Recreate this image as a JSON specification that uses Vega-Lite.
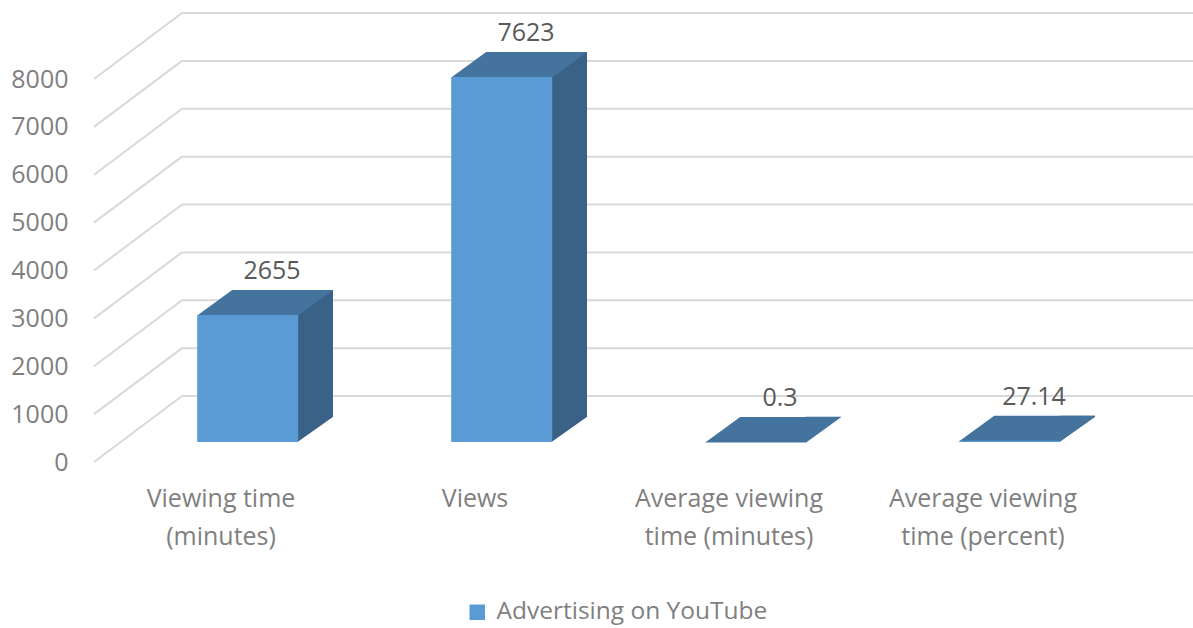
{
  "$schema": "https://vega.github.io/schema/vega-lite/v6.json",
  "width": 1016,
  "height": 383,
  "autosize": {"type": "none"},
  "padding": {"left": 94, "top": 79, "right": 83, "bottom": 166},
  "background": "white",
  "config": {"view": {"stroke": null}, "font": "Open Sans"},
  "datasets": {
    "bars": [
      {"category": "Viewing time (minutes)", "label": "Viewing time\n(minutes)", "value": 2655, "series": "Advertising on YouTube"},
      {"category": "Views", "label": "Views", "value": 7623, "series": "Advertising on YouTube"},
      {"category": "Average viewing time (minutes)", "label": "Average viewing\ntime (minutes)", "value": 0.3, "series": "Advertising on YouTube"},
      {"category": "Average viewing time (percent)", "label": "Average viewing\ntime (percent)", "value": 27.14, "series": "Advertising on YouTube"}
    ],
    "ticks": [
      {"tick": 0}, {"tick": 1000}, {"tick": 2000}, {"tick": 3000}, {"tick": 4000},
      {"tick": 5000}, {"tick": 6000}, {"tick": 7000}, {"tick": 8000}
    ]
  },
  "layer": [
    {
      "data": {"name": "ticks"},
      "mark": {"type": "rule", "color": "#d9d9d9", "strokeWidth": 2, "xOffset": -39, "x2Offset": 215, "yOffset": -66, "y2Offset": -66},
      "encoding": {
        "x": {"datum": "Viewing time (minutes)", "type": "nominal", "scale": {"domain": ["Viewing time (minutes)", "Views", "Average viewing time (minutes)", "Average viewing time (percent)"], "paddingInner": 0, "paddingOuter": 0}, "axis": null},
        "x2": {"datum": "Average viewing time (percent)"},
        "y": {"field": "tick", "type": "quantitative", "scale": {"domain": [0, 8000], "nice": false},
          "axis": {"values": [0, 1000, 2000, 3000, 4000, 5000, 6000, 7000, 8000], "format": "d", "title": null, "grid": false, "ticks": false, "domain": false, "labelFontSize": 25, "labelColor": "#7f7f7f", "labelPadding": 26, "labelFont": "Open Sans"}},
        "y2": {"field": "tick"}
      }
    },
    {
      "data": {"name": "ticks"},
      "mark": {"type": "rule", "color": "#d9d9d9", "strokeWidth": 2, "xOffset": -127, "x2Offset": -39, "y2Offset": -66},
      "encoding": {
        "x": {"datum": "Viewing time (minutes)", "type": "nominal"},
        "x2": {"datum": "Viewing time (minutes)"},
        "y": {"field": "tick", "type": "quantitative"},
        "y2": {"field": "tick"}
      }
    },
    {
      "data": {"name": "bars"},
      "mark": {"type": "bar", "width": 35, "xOffset": 94.5, "yOffset": -45, "color": "#3a6186"},
      "encoding": {
        "x": {"field": "category", "type": "nominal", "sort": null},
        "y": {"field": "value", "type": "quantitative"}
      }
    },
    {
      "data": {"name": "bars"},
      "mark": {"type": "point", "shape": "M 76.5 -20 L 76.5 -45.3 L 112.2 -45.3 Z", "size": 4, "filled": true, "opacity": 1, "color": "#3a6186", "strokeWidth": 0},
      "encoding": {
        "x": {"field": "category", "type": "nominal", "sort": null},
        "y": {"datum": 0, "type": "quantitative"}
      }
    },
    {
      "data": {"name": "bars"},
      "mark": {"type": "point", "shape": "M -23.8 -19.5 L 77.2 -19.5 L 112.2 -45 L 11.2 -45 Z", "size": 4, "filled": true, "opacity": 1, "color": "#44739e", "strokeWidth": 0},
      "encoding": {
        "x": {"field": "category", "type": "nominal", "sort": null},
        "y": {"field": "value", "type": "quantitative"}
      }
    },
    {
      "data": {"name": "bars"},
      "mark": {"type": "bar", "width": 101, "xOffset": 26.7, "yOffset": -20, "y2Offset": -20},
      "encoding": {
        "x": {"field": "category", "type": "nominal", "sort": null},
        "y": {"field": "value", "type": "quantitative"},
        "color": {"field": "series", "type": "nominal", "scale": {"range": ["#5b9bd5"]},
          "legend": {"orient": "none", "legendX": 371, "legendY": 521, "title": null, "symbolType": "square", "symbolSize": 240, "symbolStrokeWidth": 0, "labelFontSize": 24.5, "labelColor": "#7f7f7f", "labelFont": "Open Sans", "labelOffset": 7, "labelLimit": 500, "padding": 0}}
      }
    },
    {
      "data": {"name": "bars"},
      "mark": {"type": "text", "dx": 51, "dy": -56, "baseline": "alphabetic", "align": "center", "fontSize": 25, "color": "#595959"},
      "encoding": {
        "x": {"field": "category", "type": "nominal", "sort": null},
        "y": {"field": "value", "type": "quantitative"},
        "text": {"field": "value", "type": "quantitative", "format": "~g"}
      }
    },
    {
      "data": {"name": "bars"},
      "mark": {"type": "text", "dy": 45, "baseline": "alphabetic", "align": "center", "fontSize": 25, "color": "#7f7f7f", "lineBreak": "\n", "lineHeight": 38},
      "encoding": {
        "x": {"field": "category", "type": "nominal", "sort": null},
        "y": {"datum": 0, "type": "quantitative"},
        "text": {"field": "label", "type": "nominal"}
      }
    }
  ]
}
